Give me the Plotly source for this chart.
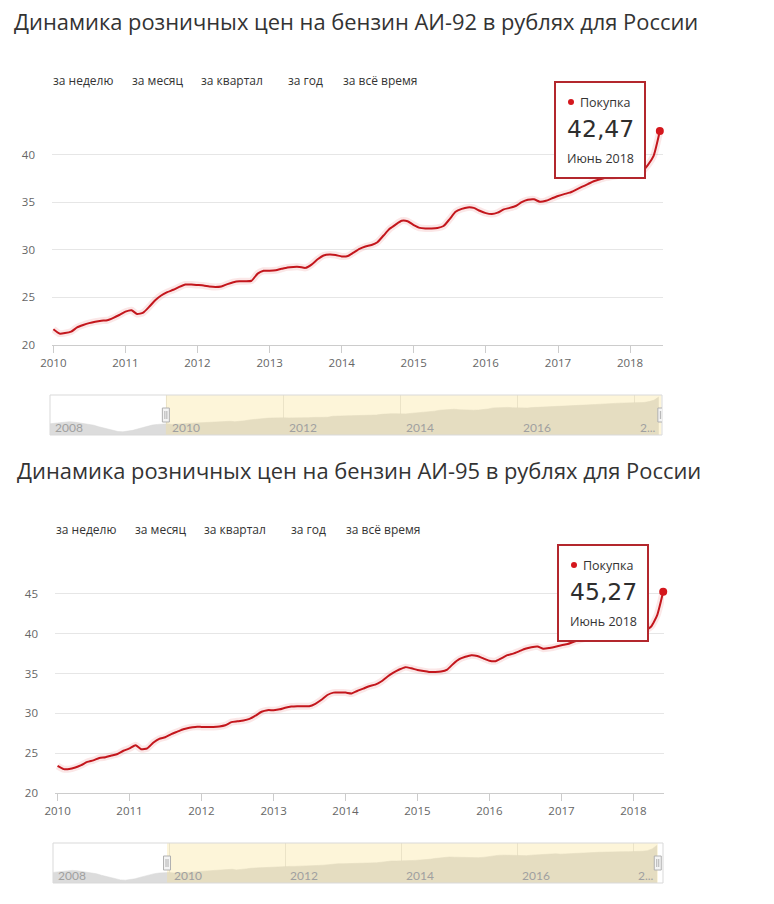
import plotly.graph_objects as go
import pandas as pd

W, H = 774, 904
FONT = "Open Sans"

# ---------------- data ----------------
dates = pd.date_range("2010-01-01", "2018-06-01", freq="MS")
hist_dates = pd.date_range("2008-01-01", "2009-12-01", freq="MS")

ai92 = [
    21.65, 21.2, 21.25, 21.4, 21.85, 22.1, 22.3, 22.45, 22.55, 22.6, 22.85, 23.15,   # 2010
    23.5, 23.65, 23.25, 23.4, 24.0, 24.7, 25.2, 25.55, 25.8, 26.1, 26.35, 26.35,     # 2011
    26.3, 26.25, 26.15, 26.1, 26.15, 26.4, 26.6, 26.7, 26.7, 26.75, 27.5, 27.8,      # 2012
    27.8, 27.85, 28.0, 28.15, 28.2, 28.2, 28.1, 28.45, 29.0, 29.4, 29.5, 29.45,      # 2013
    29.3, 29.35, 29.7, 30.1, 30.35, 30.5, 30.8, 31.5, 32.2, 32.65, 33.05, 33.0,      # 2014
    32.6, 32.3, 32.25, 32.25, 32.3, 32.5, 33.2, 34.0, 34.3, 34.45, 34.4, 34.1,       # 2015
    33.85, 33.75, 33.9, 34.25, 34.4, 34.6, 35.0, 35.25, 35.3, 35.05, 35.15, 35.4,    # 2016
    35.65, 35.85, 36.0, 36.3, 36.6, 36.9, 37.2, 37.4, 37.6, 37.7, 37.8, 37.9,        # 2017
    37.95, 38.05, 38.2, 38.9, 39.9, 42.47,                                           # 2018
]

ai95 = [
    23.4, 23.0, 23.0, 23.2, 23.5, 23.9, 24.1, 24.4, 24.5, 24.7, 24.9, 25.3,          # 2010
    25.6, 26.0, 25.5, 25.6, 26.3, 26.8, 27.0, 27.4, 27.7, 28.0, 28.2, 28.3,          # 2011
    28.3, 28.3, 28.3, 28.35, 28.5, 28.9, 29.0, 29.1, 29.3, 29.7, 30.2, 30.4,         # 2012
    30.4, 30.5, 30.7, 30.85, 30.9, 30.9, 30.9, 31.2, 31.7, 32.3, 32.6, 32.6,         # 2013
    32.6, 32.5, 32.8, 33.1, 33.4, 33.6, 34.0, 34.6, 35.1, 35.5, 35.8, 35.65,         # 2014
    35.45, 35.3, 35.2, 35.2, 35.25, 35.5, 36.2, 36.8, 37.1, 37.3, 37.2, 36.9,        # 2015
    36.6, 36.55, 36.9, 37.3, 37.5, 37.8, 38.1, 38.3, 38.4, 38.1, 38.2, 38.35,        # 2016
    38.55, 38.7, 38.95, 39.2, 39.4, 39.6, 39.8, 39.95, 40.0, 40.05, 40.05, 40.05,    # 2017
    40.1, 40.2, 40.4, 40.9, 42.3, 45.27,                                             # 2018
]

# navigator history (2008-2009), as drawn in the navigator strip
nav_hist_92 = [21.7, 22.2, 22.7, 23.1, 23.3, 23.0, 22.4, 21.9, 21.5, 20.6, 19.4, 18.4,
               17.3, 16.3, 15.7, 15.5, 15.8, 16.6, 17.7, 18.9, 19.9, 20.7, 21.2, 21.5]
nav_hist_95 = [23.5, 24.0, 24.5, 24.9, 25.1, 24.8, 24.2, 23.7, 23.3, 22.4, 21.2, 20.2,
               19.1, 18.1, 17.5, 17.3, 17.6, 18.4, 19.5, 20.7, 21.7, 22.5, 23.0, 23.3]

title_92 = "Динамика розничных цен на бензин АИ-92 в рублях для России"
title_95 = "Динамика розничных цен на бензин АИ-95 в рублях для России"
buttons = ["за неделю", "за месяц", "за квартал", "за год", "за всё время"]
series_name = "Покупка"
months_ru = ["Январь", "Февраль", "Март", "Апрель", "Май", "Июнь",
             "Июль", "Август", "Сентябрь", "Октябрь", "Ноябрь", "Декабрь"]
x_years = list(range(2010, 2019))
yticks_92 = [20, 25, 30, 35, 40, 45]
yticks_95 = [20, 25, 30, 35, 40, 45, 50]
nav_years = [2008, 2010, 2012, 2014, 2016, 2018]
nav_labels = ["2008", "2010", "2012", "2014", "2016", "2..."]

# ---------------- styling / geometry ----------------
RED = "#c3161c"
BORDER = "#b3272d"


def fx(px):
    return px / W


def fy(py):
    return 1 - py / H


panels = [
    dict(title=title_92, values=ai92, hist=nav_hist_92, yticks=yticks_92,
         yrange=[20, 45], navrange=[13, 44],
         main_x=(52, 663), main_y=(107, 345), xrange=("2009-12-25", "2018-06-17"),
         nav_x=(50, 662), nav_y=(395, 435), navxrange=("2008-01-01", "2018-06-21"),
         title_xy=(12, 22), btn_y=81, btn_x=[52, 131, 200, 287, 342],
         tip=(555, 82, 645, 178)),
    dict(title=title_95, values=ai95, hist=nav_hist_95, yticks=yticks_95,
         yrange=[20, 50], navrange=[15, 47],
         main_x=(55, 664), main_y=(554, 793), xrange=("2009-12-19", "2018-06-05"),
         nav_x=(53, 663), nav_y=(843, 883), navxrange=("2008-01-01", "2018-07-08"),
         title_xy=(15, 470), btn_y=529, btn_x=[55, 134, 203, 290, 345],
         tip=(558, 545, 648, 641)),
]

fig = go.Figure()
layout = dict(
    width=W, height=H,
    margin=dict(l=0, r=0, t=0, b=0, pad=0, autoexpand=False),
    paper_bgcolor="white", plot_bgcolor="rgba(0,0,0,0)",
    showlegend=False, hovermode=False,
    font=dict(family=FONT, color="#333333"),
)
shapes, annotations = [], []

for i, p in enumerate(panels):
    mi = 2 * i + 1       # main axis index
    ni = 2 * i + 2       # navigator axis index
    mx = "x" if mi == 1 else f"x{mi}"
    my = "y" if mi == 1 else f"y{mi}"
    nx, ny = f"x{ni}", f"y{ni}"
    mxl = "xaxis" if mi == 1 else f"xaxis{mi}"
    myl = "yaxis" if mi == 1 else f"yaxis{mi}"

    vals = p["values"]

    # soft glow under the line
    fig.add_trace(go.Scatter(x=dates, y=vals, mode="lines", xaxis=mx, yaxis=my,
                             line=dict(color="rgba(225,60,60,0.12)", width=7,
                                       shape="spline", smoothing=0.5)))
    fig.add_trace(go.Scatter(x=dates, y=vals, mode="lines", xaxis=mx, yaxis=my,
                             line=dict(color=RED, width=2, shape="spline", smoothing=0.5)))
    fig.add_trace(go.Scatter(x=[dates[-1]], y=[vals[-1]], mode="markers", xaxis=mx, yaxis=my,
                             cliponaxis=False,
                             marker=dict(color="#d4171d", size=8)))

    layout[mxl] = dict(
        domain=[fx(p["main_x"][0]), fx(p["main_x"][1])], anchor=my, type="date",
        range=list(p["xrange"]),
        tickvals=[f"{y}-01-01" for y in x_years], ticktext=[str(y) for y in x_years],
        ticks="outside", ticklen=7, tickcolor="#cccccc", tickwidth=1,
        showline=True, linecolor="#cccccc", linewidth=1,
        showgrid=False, zeroline=False, automargin=False,
        tickfont=dict(size=11.5, color="#666666", family=FONT),
        fixedrange=True,
    )
    layout[myl] = dict(
        domain=[fy(p["main_y"][1]), fy(p["main_y"][0])], anchor=mx,
        range=p["yrange"],
        tickvals=p["yticks"], ticktext=[str(t) for t in p["yticks"][:-1]] + [""],
        showgrid=True, gridcolor="#e6e6e6", gridwidth=1,
        zeroline=False, showline=False, ticks="", automargin=False,
        ticklabelstandoff=16,
        tickfont=dict(size=11.5, color="#666666", family=FONT),
        fixedrange=True,
    )

    # navigator
    nav_x_vals = list(hist_dates) + list(dates)
    nav_y_vals = list(p["hist"]) + list(vals)
    fig.add_trace(go.Scatter(x=nav_x_vals, y=nav_y_vals, mode="lines", xaxis=nx, yaxis=ny,
                             fill="tozeroy", fillcolor="#dcdcdc",
                             line=dict(color="#d6d6d6", width=0.5)))
    layout[f"xaxis{ni}"] = dict(
        domain=[fx(p["nav_x"][0]), fx(p["nav_x"][1])], anchor=ny, type="date",
        range=list(p["navxrange"]),
        tickvals=[f"{y}-01-01" for y in nav_years],
        showticklabels=False, ticks="", automargin=False,
        showgrid=True, gridcolor="#e4e4e4", gridwidth=1,
        zeroline=False, showline=False, fixedrange=True,
    )
    layout[f"yaxis{ni}"] = dict(
        domain=[fy(p["nav_y"][1]), fy(p["nav_y"][0])], anchor=nx,
        range=p["navrange"], visible=False, fixedrange=True, automargin=False,
    )
    # selected region overlay
    shapes.append(dict(type="rect", xref=nx, yref=f"{ny} domain",
                       x0=p["xrange"][0], x1=p["xrange"][1], y0=0, y1=1,
                       fillcolor="rgba(250,226,140,0.33)", line=dict(width=0), layer="above"))
    # navigator frame
    shapes.append(dict(type="rect", xref=f"{nx} domain", yref=f"{ny} domain",
                       x0=0, x1=1, y0=0, y1=1,
                       line=dict(color="#d9d9d9", width=1), fillcolor="rgba(0,0,0,0)",
                       layer="above"))
    # handles
    mid = (p["navrange"][0] + p["navrange"][1]) / 2
    for xa in p["xrange"]:
        shapes.append(dict(type="rect", xref=nx, yref=ny, xsizemode="pixel", ysizemode="pixel",
                           xanchor=xa, yanchor=mid, x0=-3.5, x1=3.5, y0=-7, y1=7,
                           fillcolor="#f4f4f4", line=dict(color="#b0b0b0", width=1),
                           layer="above"))
        for dx in (-1, 1):
            shapes.append(dict(type="line", xref=nx, yref=ny, xsizemode="pixel",
                               ysizemode="pixel", xanchor=xa, yanchor=mid,
                               x0=dx, x1=dx, y0=-4, y1=4,
                               line=dict(color="#b0b0b0", width=1), layer="above"))
    # navigator labels
    for yr, lab in zip(nav_years, nav_labels):
        annotations.append(dict(x=f"{yr}-01-01", xref=nx, y=0.18, yref=f"{ny} domain",
                                text=lab, showarrow=False, xanchor="left", yanchor="middle",
                                xshift=3,
                                font=dict(family="Lato", size=12, color="#a0a0a0")))

    # title
    annotations.append(dict(x=fx(p["title_xy"][0]), y=fy(p["title_xy"][1]),
                            xref="paper", yref="paper", text=p["title"], showarrow=False,
                            xanchor="left", yanchor="middle",
                            font=dict(family=FONT, size=21.9, color="#333333")))
    # range buttons
    for bx, lab in zip(p["btn_x"], buttons):
        annotations.append(dict(x=fx(bx), y=fy(p["btn_y"]), xref="paper", yref="paper",
                                text=lab, showarrow=False, xanchor="left", yanchor="middle",
                                xshift=-1,
                                font=dict(family=FONT, size=12, color="#333333")))

    # tooltip
    x0, y0, x1, y1 = p["tip"]
    shapes.append(dict(type="rect", xref="paper", yref="paper",
                       x0=fx(x0), x1=fx(x1), y0=fy(y1), y1=fy(y0),
                       fillcolor="white", line=dict(color=BORDER, width=2), layer="above"))
    cx = (x0 + x1) / 2
    shapes.append(dict(type="circle", xref="paper", yref="paper",
                       x0=fx(x0 + 13), x1=fx(x0 + 19), y0=fy(y0 + 23), y1=fy(y0 + 17),
                       fillcolor="#d4171d", line=dict(width=0), layer="above"))
    annotations.append(dict(x=fx(x0 + 23), y=fy(y0 + 20), xref="paper", yref="paper",
                            text=series_name, showarrow=False, xanchor="left",
                            yanchor="middle", font=dict(family=FONT, size=12.5, color="#333333")))
    value_txt = f"{vals[-1]:.2f}".replace(".", ",")
    annotations.append(dict(x=fx(cx), y=fy(y0 + 47), xref="paper", yref="paper",
                            text=value_txt, showarrow=False, xanchor="center",
                            yanchor="middle",
                            font=dict(family="DejaVu Sans", size=23.5, color="#2e2e2e")))
    last = dates[-1]
    date_txt = f"{months_ru[last.month - 1]} {last.year}"
    annotations.append(dict(x=fx(cx), y=fy(y0 + 76), xref="paper", yref="paper",
                            text=date_txt, showarrow=False, xanchor="center",
                            yanchor="middle", font=dict(family=FONT, size=12.5, color="#333333")))

layout["shapes"] = shapes
layout["annotations"] = annotations
fig.update_layout(**layout)
fig.write_html("out.html")
